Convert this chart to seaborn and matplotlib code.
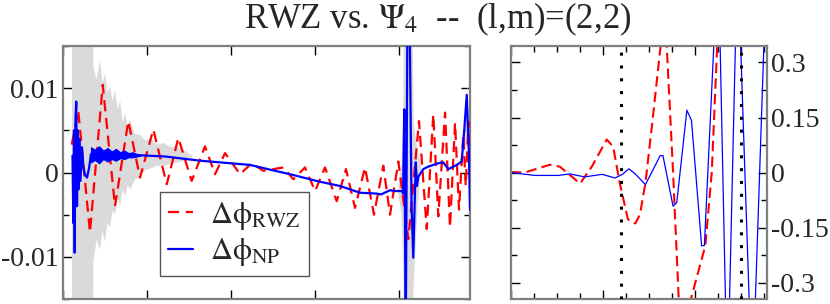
import numpy as np
import matplotlib
matplotlib.use("Agg")
import matplotlib.pyplot as plt
import seaborn as sns
from matplotlib.ticker import MultipleLocator, FixedLocator
from matplotlib.lines import Line2D

# ---- left panel: full waveform phase difference ----
red_t = [104, 182, 321, 473, 619, 777, 917, 1075, 1235, 1373, 1532, 1690, 1810, 1929,
         2107, 2246, 2385, 2623, 2742, 2881, 3000, 3119, 3258, 3369, 3476, 3595, 3702,
         3813, 3893, 3992, 4111, 4238, 4330, 4408, 4468, 4548, 4607, 4667, 4714, 4765,
         4794, 4828, 4845]
red_y = [0.0033, 0.0073, -0.0071, 0.0104, -0.0040, 0.0061, -0.0006, 0.0051, -0.0014, 0.0041,
         -0.0010, 0.0031, -0.0002, 0.0023, -0.0002, 0.0011, 0.0002, 0.0006, -0.0008, 0.0006,
         -0.0022, 0.0006, -0.0034, 0.0004, -0.0042, 0.0006, -0.0050, 0.0008, -0.0050, 0.0013,
         -0.0079, 0.0061, -0.0067, 0.0069, -0.0052, 0.0071, -0.0065, 0.0059, -0.0044, 0.0045,
         -0.0016, 0.0060, 0.0030]

blue_t = [113, 123, 131, 139, 149, 158, 167, 175, 185, 194, 208, 226, 244, 262, 286, 310,
          333, 450, 600, 798, 1214, 1631, 2226, 2524, 2702, 3060, 3298, 3536, 3734, 3786,
          3893, 3952, 4036, 4048, 4063, 4080, 4101, 4125, 4149, 4170, 4199, 4214, 4230,
          4289, 4349, 4468, 4527, 4587, 4687, 4746, 4777, 4806, 4833, 4845]
blue_y = [0.002, -0.006, 0.005, -0.0095, 0.0065, 0.0084, -0.004, 0.005, -0.002, 0.004,
          -0.001, 0.003, 0.0005, -0.0003, -0.0006, 0.0005, 0.0022, 0.0021, 0.0021, 0.0021,
          0.0019, 0.0014, 0.0009, 0.0002, -0.0002, -0.0011, -0.0016, -0.0024, -0.0025, -0.0026,
          -0.0021, -0.0022, -0.0022, -0.0025, 0.0075, -0.02, 0.02, 0.02, -0.004, -0.0101,
          0.0012, -0.0016, -0.0005, 0.0004, 0.0007, 0.0011, 0.0012, 0.0004, 0.0009, 0.0013,
          0.0051, 0.0092, 0.0020, -0.0044]

# ragged early part of the NP curve
noise_t = [333, 380, 430, 480, 530, 580, 630, 680, 730, 780, 830, 880, 917]
noise_hi = [0.0030, 0.0027, 0.0031, 0.0026, 0.0029, 0.0025, 0.0028, 0.0024, 0.0026, 0.0023,
            0.0024, 0.0022, 0.0021]
noise_lo = [0.0012, 0.0015, 0.0011, 0.0016, 0.0013, 0.0016, 0.0014, 0.0017, 0.0016, 0.0018,
            0.0018, 0.0019, 0.0020]

# grey error band
grey_t = [107, 357, 362, 400, 440, 470, 500, 530, 560, 590, 620, 650, 680, 710, 740, 770,
          800, 860, 917, 980, 1050, 1120, 1200, 1280, 1360, 1450, 1540]
grey_hi = [0.02, 0.02, 0.0125, 0.011, 0.0134, 0.0105, 0.0118, 0.0095, 0.0102, 0.0085, 0.0098,
           0.0075, 0.0085, 0.006, 0.0070, 0.0055, 0.0062, 0.0045, 0.0045, 0.0038, 0.0040,
           0.0033, 0.0035, 0.0030, 0.0030, 0.0026, 0.0020]
grey_lo = [-0.02, -0.02, -0.0105, -0.008, -0.0091, -0.007, -0.0082, -0.006, -0.0065, -0.0045,
           -0.0050, -0.003, -0.0040, -0.002, -0.0028, -0.0015, -0.0020, -0.0008, -0.0005,
           0.0003, 0.0005, 0.0008, 0.0008, 0.0010, 0.0012, 0.0014, 0.0018]
merger_t = [3990, 4030, 4050, 4060, 4160, 4175, 4200, 4230, 4260]
merger_hi = [-0.0015, 0.001, 0.008, 0.02, 0.02, 0.006, 0.004, 0.002, 0.0012]
merger_lo = [-0.0025, -0.005, -0.012, -0.02, -0.02, -0.013, -0.008, -0.003, 0.0004]
peak_t = [4780, 4806, 4830]
peak_hi = [0.004, 0.0108, 0.004]
peak_lo = [0.002, 0.004, 0.001]

left_yticks = [-0.01, 0, 0.01]
left_ylabels = ["-0.01", "0", "0.01"]

# ---- right panel: zoom on merger ----
zred_t = [0, 15, 42, 53, 75, 88, 104, 111, 118, 127, 135, 140, 146, 153, 167, 176, 184,
          211, 218, 230]
zred_y = [0.001, 0.0, 0.021, 0.016, -0.030, 0.017, 0.090, 0.070, -0.028, -0.128, -0.139,
          -0.115, -0.028, 0.126, 0.45, 0.0, -0.45, -0.20, 0.0, 0.7]
zblue_t = [0, 26, 51, 64, 80, 99, 113, 121, 128, 135, 146, 162, 165, 176, 180, 191, 196,
           207, 210, 225, 235, 246, 262, 278]
zblue_y = [0.0, -0.008, -0.008, -0.004, -0.012, -0.005, -0.015, -0.005, 0.010, -0.004,
           -0.033, 0.046, 0.046, -0.092, -0.082, 0.170, 0.142, -0.200, -0.199, 0.6, -0.6,
           0.6, -0.6, 0.6]
vlines_t = [119.6, 250]
right_yticks = [-0.3, -0.15, 0, 0.15, 0.3]
right_ylabels = ["-0.3", "-0.15", "0", "0.15", "0.3"]

sns.set_theme(style="ticks")
plt.rcParams["font.family"] = ["Liberation Serif", "DejaVu Serif"]
plt.rcParams["mathtext.fontset"] = "stix"

fig = plt.figure(figsize=(8.3, 3.04), dpi=100)
ax1 = fig.add_axes([63 / 830, 5 / 304, 407 / 830, 253 / 304])
ax2 = fig.add_axes([511 / 830, 5 / 304, 256 / 830, 253 / 304])

grey = "#dadada"
for tt, hi, lo in [(grey_t, grey_hi, grey_lo), (merger_t, merger_hi, merger_lo),
                   (peak_t, peak_hi, peak_lo)]:
    ax1.fill_between(tt, lo, hi, color=grey, lw=0, zorder=1)

sns.lineplot(x=red_t, y=red_y, ax=ax1, color="red", lw=1.6, sort=False, estimator=None,
             zorder=3).lines[-1].set_dashes([5, 3])
ax1.fill_between(noise_t, noise_lo, noise_hi, color="blue", lw=0.8, zorder=4)
sns.lineplot(x=blue_t, y=blue_y, ax=ax1, color="blue", lw=1.6, sort=False, estimator=None,
             zorder=4)

ax1.set_xlim(0, 4845)
ax1.set_ylim(-0.015, 0.015)
ax1.xaxis.set_major_locator(FixedLocator([0, 1000, 2000, 3000, 4000]))
ax1.set_xticklabels([])
ax1.set_yticks(left_yticks)
ax1.set_yticklabels(left_ylabels)
ax1.yaxis.set_minor_locator(MultipleLocator(0.005))

leg_handles = [Line2D([], [], color="red", lw=1.6, dashes=[5, 3]),
               Line2D([], [], color="blue", lw=1.6)]
leg = ax1.legend(leg_handles,
                 [r"$\mathrm{\Delta\phi}_{\mathrm{RWZ}}$", r"$\mathrm{\Delta\phi}_{\mathrm{NP}}$"],
                 loc="lower left", bbox_to_anchor=(0.238, 0.091), borderaxespad=0,
                 fontsize=22, handlelength=0.85, handletextpad=0.55, borderpad=0.25,
                 labelspacing=0.15, fancybox=False, framealpha=1, edgecolor="#555555")
leg.get_frame().set_linewidth(1.0)
leg.set_zorder(6)

# right panel
sns.lineplot(x=zred_t, y=zred_y, ax=ax2, color="red", lw=1.5, sort=False,
             estimator=None).lines[-1].set_dashes([5, 2.5])
sns.lineplot(x=zblue_t, y=zblue_y, ax=ax2, color="blue", lw=0.9, sort=False, estimator=None)
for v in vlines_t:
    ax2.axvline(v, color="black", lw=2.2, linestyle=(0, (1, 3.2)), dash_capstyle="butt",
                zorder=5)
ax2.set_xlim(0, 278)
ax2.set_ylim(-0.345, 0.345)
ax2.xaxis.set_major_locator(MultipleLocator(100))
ax2.xaxis.set_minor_locator(MultipleLocator(25))
ax2.set_xticklabels([])
ax2.set_yticks(right_yticks)
ax2.set_yticklabels(right_ylabels)
ax2.yaxis.set_minor_locator(MultipleLocator(0.075))
ax2.tick_params(axis="y", labelleft=False, labelright=True)

for ax in (ax1, ax2):
    for sp in ax.spines.values():
        sp.set_visible(True)
        sp.set_color("#7f7f7f")
        sp.set_linewidth(1.6)
    ax.set_xlabel("")
    ax.set_ylabel("")
    ax.tick_params(which="both", direction="in", top=True, bottom=True, left=True,
                   right=True, color="black", width=1.0)
    ax.tick_params(which="major", length=6.5, labelsize=20, pad=3)
    ax.tick_params(which="minor", length=4.5)
ax1.tick_params(axis="x", which="minor", length=0)

fig.text(0.527, 1 - 28 / 304, r"RWZ vs. $\Psi_4$  --  (l,m)=(2,2)", ha="center",
         va="baseline", fontsize=25)

fig.savefig("out.png", dpi=100)
